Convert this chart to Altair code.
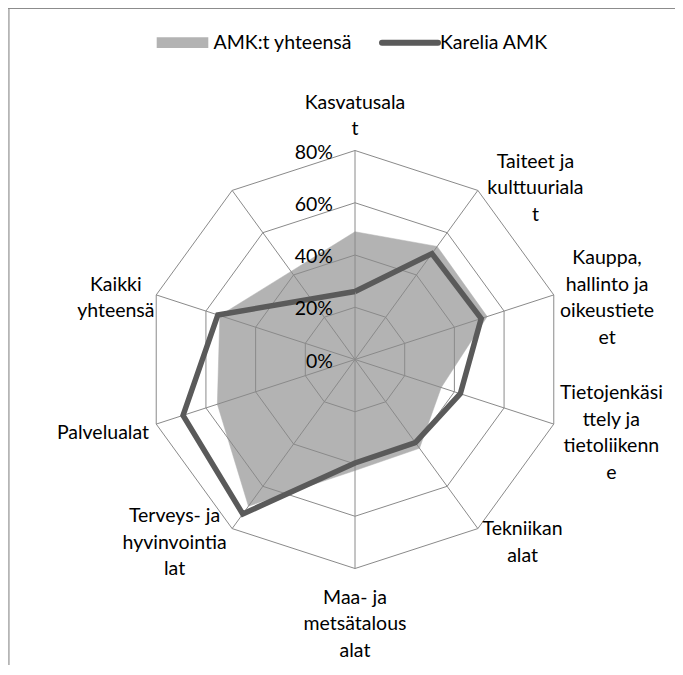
import math
import altair as alt
import pandas as pd

# ---------------- data ----------------
categories = ["Kasvatusalat", "Taiteet ja kulttuurialat", "Kauppa, hallinto ja oikeustieteet",
              "Tietojenkäsittely ja tietoliikenne", "Tekniikan alat", "Maa- ja metsätalousalat",
              "Terveys- ja hyvinvointialat", "Palvelualat", "Kaikki yhteensä", ""]
category_labels = ["Kasvatusala\nt", "Taiteet ja\nkulttuuriala\nt", "Kauppa,\nhallinto ja\noikeustiete\net",
                   "Tietojenkäsi\nttely ja\ntietoliikenn\ne", "Tekniikan\nalat", "Maa- ja\nmetsätalous\nalat",
                   "Terveys- ja\nhyvinvointia\nlat", "Palvelualat", "Kaikki\nyhteensä", ""]
amk_total = [48.9, 53.5, 53.2, 34.7, 42.0, 42.5, 69.4, 55.4, 54.4, None]
karelia_amk = [26.0, 50.1, 50.8, 42.4, 39.3, 39.6, 73.1, 69.2, 55.2, None]
series_names = ["AMK:t yhteensä", "Karelia AMK"]
tick_values = [0, 20, 40, 60, 80]
tick_labels = ["0%", "20%", "40%", "60%", "80%"]

# ---------------- layout ----------------
W, H = 667, 657
CX, CY = 347.0, 351.5          # centre of the radar in plot pixels
RMAX = 80.0
S = 209.0 / RMAX               # pixels per percentage point
FONT = "Lato"
FS = 19.5
LH = 26.5
GRID = "#8a8a8a"
FILL = "#b3b3b3"
LINE = "#5a5a5a"

xs = alt.Scale(domain=[-CX / S, (W - CX) / S], nice=False, zero=False)
ys = alt.Scale(domain=[-(H - CY) / S, CY / S], nice=False, zero=False)
X = lambda f: alt.X(f, type="quantitative", scale=xs, axis=None)
Y = lambda f: alt.Y(f, type="quantitative", scale=ys, axis=None)

n = len(categories)
angles = [2 * math.pi * i / n for i in range(n)]


def polygon(values, name):
    rows = []
    pts = [(i, v) for i, v in enumerate(values) if v is not None]
    pts = pts + [pts[0]]
    for k, (i, v) in enumerate(pts):
        rows.append({"series": name, "idx": k, "cat": categories[i],
                     "x": v * math.sin(angles[i]), "y": v * math.cos(angles[i]), "value": v})
    return pd.DataFrame(rows)


amk_df = polygon(amk_total, series_names[0])
kar_df = polygon(karelia_amk, series_names[1])

# grid rings
ring_rows = []
for lvl in tick_values[1:]:
    for k in range(n + 1):
        a = angles[k % n]
        ring_rows.append({"level": lvl, "idx": k, "x": lvl * math.sin(a), "y": lvl * math.cos(a)})
ring_df = pd.DataFrame(ring_rows)

spoke_df = pd.DataFrame({"x0": [0.0] * n, "y0": [0.0] * n,
                         "x1": [RMAX * math.sin(a) for a in angles],
                         "y1": [RMAX * math.cos(a) for a in angles]})

tick_df = pd.DataFrame({"label": tick_labels, "x": [0.0] * len(tick_values), "y": tick_values})

# category label placement (derived from the angle and the text block size);
# the text anchor is the first line, so shift up by half the extra lines
lab_rows = []
for i, lab in enumerate(category_labels):
    if not lab:
        continue
    a = angles[i]
    s, c = math.sin(a), math.cos(a)
    lines = lab.split("\n")
    w = max(len(l) for l in lines) * 8.6
    h = len(lines) * LH
    vx, vy = RMAX * s, RMAX * c
    if abs(s) < 0.1:
        px = 0.0
        py = (8 + h / 2) if c > 0 else -(16 + h / 2)
    else:
        px = math.copysign(6 + w / 2, s)
        py = -(6 - 10 * c)
    py += (len(lines) - 1) * LH / 2
    lab_rows.append({"label": lab, "x": vx + px / S, "y": vy + py / S})
lab_df = pd.DataFrame(lab_rows)

# ---------------- layers ----------------
area = alt.Chart(amk_df).mark_line(fill=FILL, stroke=FILL, strokeWidth=0.5).encode(
    x=X("x"), y=Y("y"), order=alt.Order("idx:Q"),
    tooltip=["series", "cat", "value"])

rings = alt.Chart(ring_df).mark_line(stroke=GRID, strokeWidth=1).encode(
    x=X("x"), y=Y("y"), detail="level:N", order=alt.Order("idx:Q"))

spokes = alt.Chart(spoke_df).mark_rule(stroke=GRID, strokeWidth=1).encode(
    x=X("x0"), y=Y("y0"), x2="x1", y2="y1")

kline = alt.Chart(kar_df).mark_line(stroke=LINE, strokeWidth=5.5, strokeJoin="miter").encode(
    x=X("x"), y=Y("y"), order=alt.Order("idx:Q"),
    tooltip=["series", "cat", "value"])

ticks = alt.Chart(tick_df).mark_text(font=FONT, fontSize=FS, align="right", baseline="middle",
                                     dx=-22, dy=2, color="#000000").encode(
    x=X("x"), y=Y("y"), text="label:N")

cat_text = alt.Chart(lab_df).mark_text(font=FONT, fontSize=FS, align="center", baseline="middle",
                                       lineBreak="\n", lineHeight=LH, color="#000000").encode(
    x=X("x"), y=Y("y"), text="label:N")

# legend
leg1 = pd.DataFrame({"series": [series_names[0]]})
leg2 = pd.DataFrame({"series": [series_names[1]]})
sw1 = alt.Chart(leg1).mark_rect(color=FILL).encode(
    x=alt.value(148.7), x2=alt.value(200.3), y=alt.value(29.3), y2=alt.value(40))
tx1 = alt.Chart(leg1).mark_text(font=FONT, fontSize=FS, align="left", baseline="middle",
                                color="#000000").encode(
    x=alt.value(205.5), y=alt.value(34.5), text="series:N")
sw2 = alt.Chart(leg2).mark_rule(color=LINE, strokeWidth=6, strokeCap="round").encode(
    x=alt.value(374), x2=alt.value(430), y=alt.value(34.7))
tx2 = alt.Chart(leg2).mark_text(font=FONT, fontSize=FS, align="left", baseline="middle",
                                color="#000000").encode(
    x=alt.value(432), y=alt.value(34.5), text="series:N")

# chart frame (left and top edges, as in the reference crop)
frame_l = alt.Chart(leg1).mark_rule(color="#8c8c8c", strokeWidth=1).encode(
    x=alt.value(1), y=alt.value(0), y2=alt.value(H))
frame_t = alt.Chart(leg1).mark_rule(color="#8c8c8c", strokeWidth=1).encode(
    x=alt.value(0), x2=alt.value(W), y=alt.value(0.5))

chart = alt.layer(area, rings, spokes, kline, ticks, cat_text, sw1, tx1, sw2, tx2, frame_l, frame_t).properties(
    width=W, height=H, padding=0, autosize=alt.AutoSizeParams(type="none")
).configure_view(stroke=None).configure(background="white")

chart.save("out.html", embed_options={"renderer": "svg", "actions": False})
